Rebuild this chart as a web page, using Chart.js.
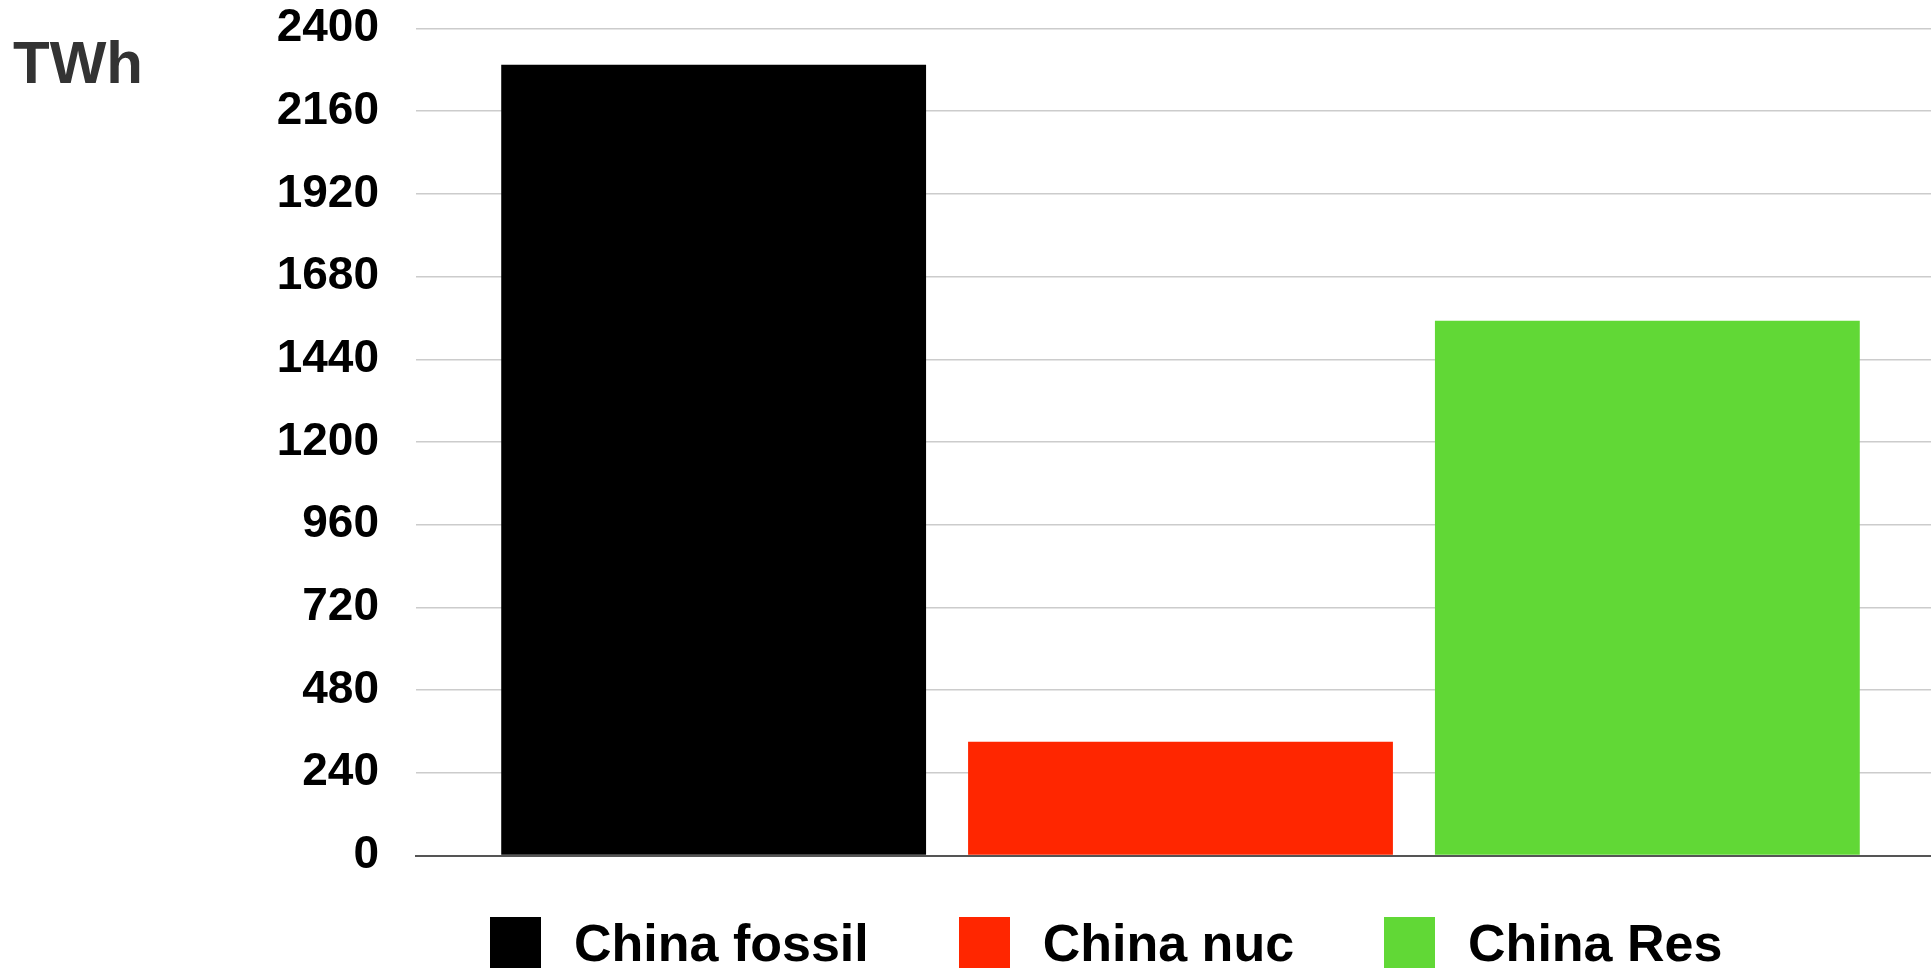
<!DOCTYPE html>
<html>
<head>
<meta charset="utf-8">
<script src="https://cdn.jsdelivr.net/npm/chart.js@4/dist/chart.umd.min.js"></script>
<style>
  html, body { margin: 0; padding: 0; background: #fff; overflow: hidden; }
  body { width: 1931px; height: 969px; position: relative; font-family: 'Liberation Sans', Arial, sans-serif; }
  #wrap { position: absolute; left: 0; top: 0; width: 1945px; height: 969px; }
  #unit { position: absolute; left: 13px; top: 33px; font-size: 60px; line-height: 1; font-weight: bold; color: #333; }
  #legend { position: absolute; left: 490px; top: 917px; display: flex; align-items: center; height: 51px; }
  #legend .item { display: flex; align-items: center; margin-right: 90px; }
  #legend .box { width: 51px; height: 51px; margin-right: 33px; }
  #legend .txt { font-size: 52px; font-weight: bold; color: #000; line-height: 1; }
</style>
</head>
<body>
<div id="wrap"><canvas id="myChart"></canvas></div>
<div id="unit">TWh</div>
<div id="legend"></div>
<script>
// values
const categories = ['China']
const seriesNames = ['China fossil', 'China nuc', 'China Res']
const fossil = [2295]
const nuclear = [330]
const renewables = [1552]
const seriesColors = ['#000000', '#ff2600', '#61d836']
const yTicks = [0, 240, 480, 720, 960, 1200, 1440, 1680, 1920, 2160, 2400]

const seriesValues = [fossil, nuclear, renewables]

const data = {
  labels: categories,
  datasets: seriesNames.map((name, i) => ({
    label: name,
    data: seriesValues[i],
    backgroundColor: seriesColors[i],
    borderWidth: 0,
    categoryPercentage: 0.916,
    barPercentage: 0.91,
  })),
}

const ctx = document.getElementById('myChart').getContext('2d')
const myChart = new Chart(ctx, {
  type: 'bar',
  data,
  options: {
    responsive: true,
    maintainAspectRatio: false,
    animation: false,
    layout: {
      padding: { top: 28.5, bottom: 113.5, left: 0, right: 0 },
    },
    plugins: {
      legend: { display: false },
      title: { display: false },
      tooltip: { enabled: false },
    },
    scales: {
      x: {
        ticks: { display: false },
        grid: { display: false },
        border: { display: true, color: '#555', width: 2 },
        afterFit: (scale) => {
          scale.height = 0
        },
      },
      y: {
        min: yTicks[0],
        max: yTicks[yTicks.length - 1],
        afterBuildTicks: (scale) => {
          scale.ticks = yTicks.map((value) => ({ value }))
        },
        afterFit: (scale) => {
          scale.width = 416
          scale.paddingTop = 0
          scale.paddingBottom = 0
        },
        ticks: {
          padding: 37,
          color: '#000',
          font: { family: "'Liberation Sans', Arial, sans-serif", size: 46, weight: 'bold' },
          callback: (value) => String(value),
        },
        grid: { color: '#cccccc', lineWidth: 1.5, drawTicks: false },
        border: { display: false },
      },
    },
  },
})

// legend built from the chart's own datasets
const legendEl = document.getElementById('legend')
myChart.data.datasets.forEach((ds) => {
  const item = document.createElement('div')
  item.className = 'item'
  const box = document.createElement('div')
  box.className = 'box'
  box.style.background = ds.backgroundColor
  const txt = document.createElement('div')
  txt.className = 'txt'
  txt.textContent = ds.label
  item.appendChild(box)
  item.appendChild(txt)
  legendEl.appendChild(item)
})
</script>
</body>
</html>
